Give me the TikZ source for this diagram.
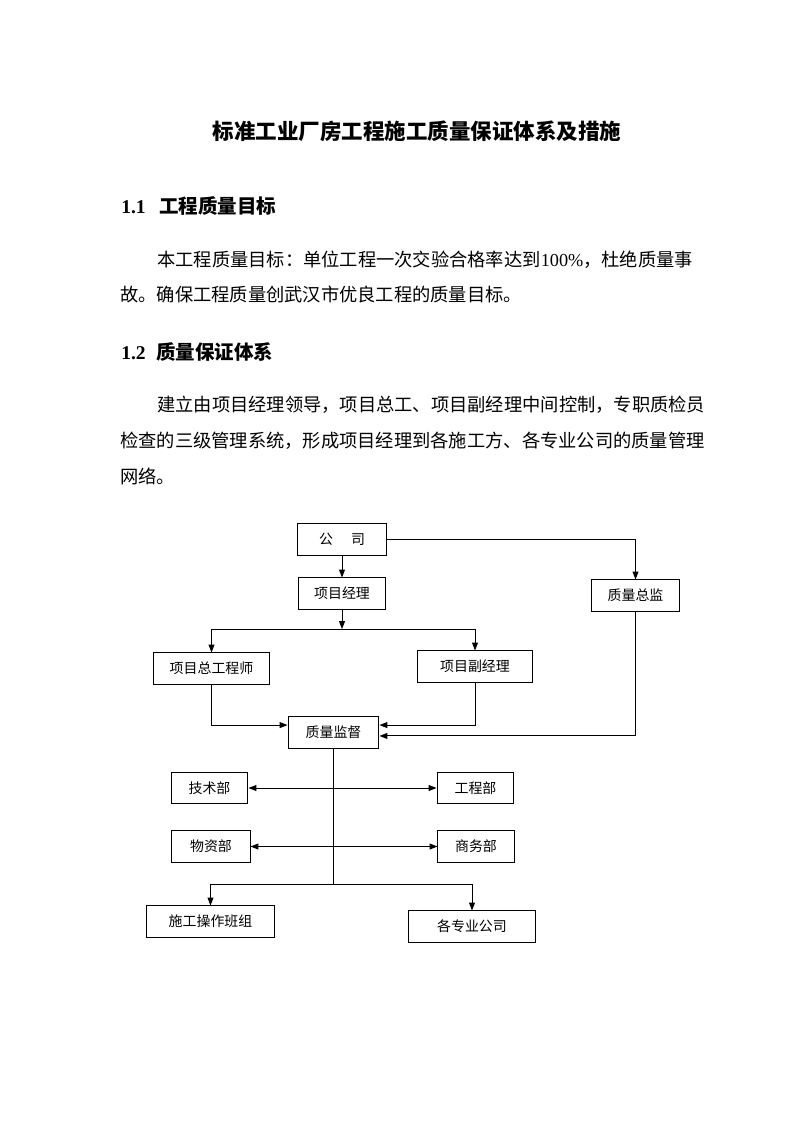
\documentclass[tikz,border=0pt]{standalone}
\usepackage{fontspec}
\setmainfont{Liberation Serif}
\newfontfamily\cjk{Noto Sans CJK SC}
\XeTeXlinebreaklocale "zh"
\XeTeXlinebreakskip=0pt plus 1pt
\usetikzlibrary{arrows.meta, positioning, calc}

\begin{document}
\begin{tikzpicture}[
        x=0.26482mm, y=-0.26482mm,
        box/.style={rectangle, draw, line width=0.75pt, minimum height=23.4pt, inner sep=0pt, font=\cjk\fontsize{10.5}{12}\selectfont},
        doctitle/.style={inner sep=0pt, font=\cjk\bfseries\fontsize{16.2}{20}\selectfont},
        heading/.style={anchor=west, inner sep=0pt, font=\bfseries\fontsize{14.7}{18}\selectfont},
        bodyline/.style={anchor=west, inner sep=0pt, font=\fontsize{13.76}{16}\selectfont},
        conn/.style={line width=0.75pt},
        flow/.style={conn, -{Triangle[length=6pt, width=4.5pt]}},
        twoway/.style={conn, {Triangle[length=6pt, width=4.5pt]}-{Triangle[length=6pt, width=4.5pt]}}
    ]

    \fill[white] (0,0) rectangle (793,1122);
    \useasboundingbox (0,0) rectangle (793,1122);

    % --- Text: title, headings, paragraphs ---
    \node[doctitle] (title) at (417,131) {标准工业厂房工程施工质量保证体系及措施};
    \node[heading] (h1) at (121,206) {\makebox[1.95em][l]{1.1}{\cjk\bfseries 工程质量目标}};
    \node[bodyline] (p1a) at (157,260) {\makebox[415pt][s]{{\cjk 本工程质量目标：单位工程一次交验合格率达到}100\%{\cjk ，杜绝质量事}}};
    \node[bodyline] (p1b) at (120,295) {\cjk 故。确保工程质量创武汉市优良工程的质量目标。};
    \node[heading] (h2) at (121,352) {\makebox[1.8em][l]{1.2}{\cjk\bfseries 质量保证体系}};
    \node[bodyline] (p2a) at (157,404.5) {\makebox[413pt][s]{\cjk 建立由项目经理领导，项目总工、项目副经理中间控制，专职质检员}};
    \node[bodyline] (p2b) at (120,441) {\makebox[442pt][s]{\cjk 检查的三级管理系统，形成项目经理到各施工方、各专业公司的质量管理}};
    \node[bodyline] (p2c) at (120,476) {\cjk 网络。};

    % --- Chart: boxes ---
    \node[box, minimum width=67pt] (company) at (342,539.5) {公\hspace{1.3em}司};
    \node[box, minimum width=65.5pt] (pm) at (342,593.5) {项目经理};
    \node[box, minimum width=67pt] (qdir) at (635.5,595.5) {质量总监};
    \node[box, minimum width=88pt] (chief) at (211.5,668.5) {项目总工程师};
    \node[box, minimum width=86pt] (deputy) at (475,666.5) {项目副经理};
    \node[box, minimum width=68.5pt] (qsup) at (333.5,732.5) {质量监督};
    \node[box, minimum width=58pt] (tech) at (209.5,788) {技术部};
    \node[box, minimum width=58pt] (eng) at (475.5,788) {工程部};
    \node[box, minimum width=58.8pt] (mat) at (211,846.5) {物资部};
    \node[box, minimum width=57.3pt] (biz) at (476,846.5) {商务部};
    \node[box, minimum width=95.7pt] (crews) at (210.5,921.5) {施工操作班组};
    \node[box, minimum width=95pt] (subs) at (472,926.5) {各专业公司};

    % --- Chart: connectors ---
    \coordinate (split) at (342,629);
    \coordinate (fork) at (333.5,884);

    \draw[flow] (company) -- (pm);
    \draw[flow] (company) -| (qdir);
    \draw[flow] (pm) -- (split);
    \draw[conn] (chief.north |- split) -- (deputy.north |- split);
    \draw[flow] (chief.north |- split) -- (chief);
    \draw[flow] (deputy.north |- split) -- (deputy);

    \draw[flow] (chief) |- ([yshift=5.6pt]qsup.west);
    \draw[flow] (deputy) |- ([yshift=5.6pt]qsup.east);
    \draw[flow] (qdir) |- ([yshift=-2.6pt]qsup.east);

    \draw[conn] (qsup) -- (fork);
    \draw[twoway] (tech) -- (eng);
    \draw[twoway] (mat) -- (biz);

    \draw[conn] (crews.north |- fork) -- (subs.north |- fork);
    \draw[flow] (crews.north |- fork) -- (crews);
    \draw[flow] (subs.north |- fork) -- (subs);

\end{tikzpicture}
\end{document}
